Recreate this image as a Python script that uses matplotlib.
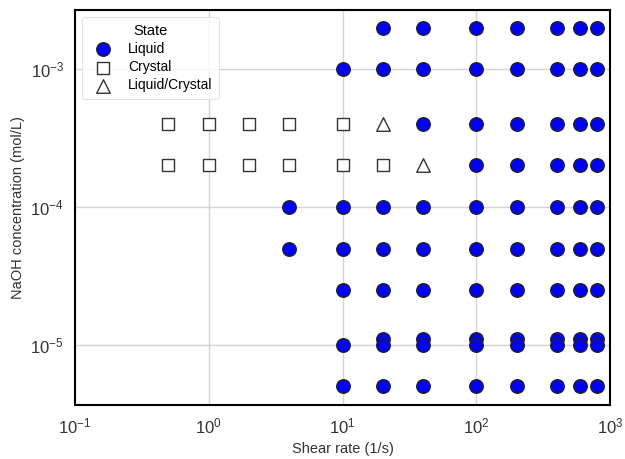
import matplotlib
matplotlib.use("Agg")
import matplotlib.pyplot as plt
import numpy as np

plt.rcParams['font.family'] = ['Liberation Sans', 'DejaVu Sans']
plt.rcParams['mathtext.fontset'] = 'custom'
plt.rcParams['mathtext.rm'] = 'Liberation Sans'
plt.rcParams['mathtext.it'] = 'Liberation Sans:italic'

# Liquid points (shear rate, concentration)
liq_x = [20, 40, 100, 200, 400, 600, 800,
         10, 20, 40, 100, 200, 400, 600, 800,
         40, 100, 200, 400, 600, 800,
         100, 200, 400, 600, 800,
         4, 10, 20, 40, 100, 200, 400, 600, 800,
         4, 10, 20, 40, 100, 200, 400, 600, 800,
         10, 20, 40, 100, 200, 400, 600, 800,
         20, 40, 100, 200, 400, 600, 800,
         10, 20, 40, 100, 200, 400, 600, 800,
         10, 20, 40, 100, 200, 400, 600, 800]
liq_y = ([2e-3] * 7 + [1e-3] * 8 + [4e-4] * 6 + [2e-4] * 5 + [1e-4] * 9
         + [5e-5] * 9 + [2.5e-5] * 8 + [1.1e-5] * 7 + [1e-5] * 8 + [5e-6] * 8)

# Crystal points
cry_x = [0.5, 1, 2, 4, 10, 0.5, 1, 2, 4, 10, 20]
cry_y = [4e-4] * 5 + [2e-4] * 6

# Liquid/Crystal points
mix_x = [20, 40]
mix_y = [4e-4, 2e-4]

fig = plt.figure(figsize=(6.25, 4.59), dpi=100)
ax = fig.add_axes([0.12, 0.1176, 0.856, 0.8606])

ax.scatter(liq_x, liq_y, s=95, marker='o', facecolor='#0000ff', edgecolor='#222222',
           linewidth=1.0, label='Liquid', zorder=3)
ax.scatter(cry_x, cry_y, s=85, marker='s', facecolor='white', edgecolor='#333333',
           linewidth=1.0, label='Crystal', zorder=3)
ax.scatter(mix_x, mix_y, s=95, marker='^', facecolor='white', edgecolor='#333333',
           linewidth=1.0, label='Liquid/Crystal', zorder=3)

ax.set_xscale('log')
ax.set_yscale('log')
ax.set_xlim(0.1, 1000)
ax.set_ylim(3.67e-6, 2.68e-3)
ax.minorticks_off()
ax.grid(True, color='#d3d3d3', linewidth=1.0, zorder=0)
ax.tick_params(length=0, labelsize=12, colors='#333333', pad=8)
for sp in ax.spines.values():
    sp.set_color('black')
    sp.set_linewidth(1.5)

ax.set_xlabel('Shear rate (1/s)', fontsize=10.5, color='#333333')
ax.set_ylabel('NaOH concentration (mol/L)', fontsize=10.5, color='#333333')

leg = ax.legend(title='State', loc='upper left', fontsize=10, title_fontsize=10.5,
                frameon=True, edgecolor='#dddddd', handletextpad=0.8,
                borderpad=0.5, labelspacing=0.3)
leg.get_frame().set_linewidth(0.8)

fig.savefig('out.png', dpi=100)
